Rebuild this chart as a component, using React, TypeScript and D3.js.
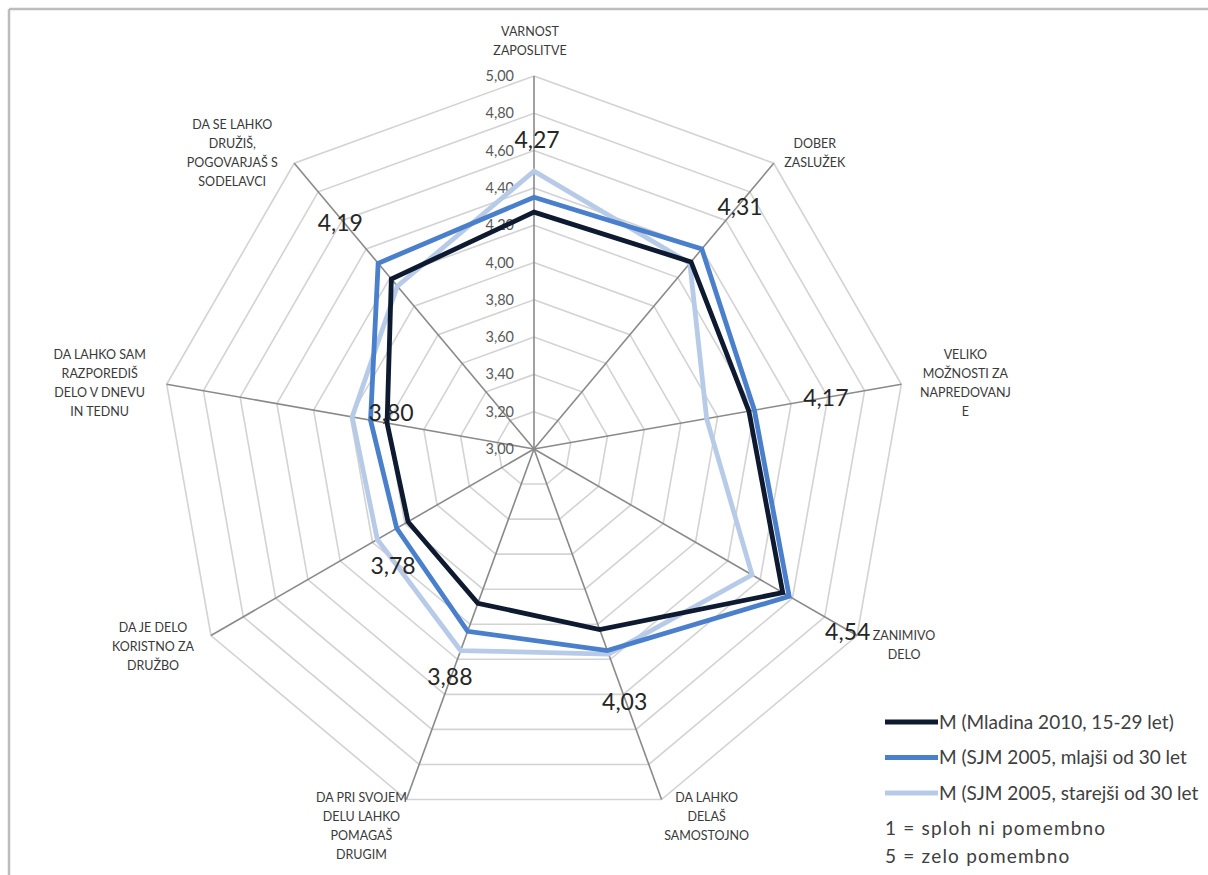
import React from "react";
import * as d3 from "d3";

// kategorije (osi) - vrstice napisov
const categories = [
  ["VARNOST", "ZAPOSLITVE"],
  ["DOBER", "ZASLUŽEK"],
  ["VELIKO", "MOŽNOSTI ZA", "NAPREDOVANJ", "E"],
  ["ZANIMIVO", "DELO"],
  ["DA LAHKO", "DELAŠ", "SAMOSTOJNO"],
  ["DA PRI SVOJEM", "DELU LAHKO", "POMAGAŠ", "DRUGIM"],
  ["DA JE DELO", "KORISTNO ZA", "DRUŽBO"],
  ["DA LAHKO SAM", "RAZPOREDIŠ", "DELO V DNEVU", "IN TEDNU"],
  ["DA SE LAHKO", "DRUŽIŠ,", "POGOVARJAŠ S", "SODELAVCI"],
];

const mladina2010 = [4.27, 4.31, 4.17, 4.54, 4.03, 3.88, 3.78, 3.8, 4.19];
const sjmMlajsi = [4.35, 4.4, 4.2, 4.58, 4.15, 4.04, 3.85, 3.89, 4.3];
const sjmStarejsi = [4.49, 4.3, 3.94, 4.35, 4.17, 4.15, 3.97, 3.99, 4.14];

const seriesNames = [
  "M (Mladina 2010, 15-29 let)",
  "M (SJM 2005, mlajši od 30 let",
  "M (SJM 2005, starejši od 30 let",
];
const notes = ["1 = sploh ni pomembno", "5 = zelo pomembno"];

const ticks = [3.0, 3.2, 3.4, 3.6, 3.8, 4.0, 4.2, 4.4, 4.6, 4.8, 5.0];

// postavitev
const W = 1208;
const H = 875;
const cx = 534;
const cy = 449;
const R = 373;
const colors = ["#0e1a30", "#4a7fcc", "#b7cbe8"];
const font = "Lato, 'Open Sans', sans-serif";

// odmiki napisov kategorij od konca osi: [dx sredine, dy prve vrstice]
const catOffset = [
  [-4, -44], [41, -20], [64, -30], [47, 0], [45, -2],
  [-45, -2], [-58, -8], [-67, -30], [-62, -39],
];
// odmiki podatkovnih oznak od točke temne serije
const valOffset = [
  [3, -72], [49, -55], [77, -13], [65, 39], [25, 72],
  [-28, 74], [-15, 44], [4, -10], [-51, -56],
];

const App = () => {
  const n = categories.length;
  const angle = (i: number) => (i * 2 * Math.PI) / n;
  const r = d3.scaleLinear().domain([3, 5]).range([0, R]);
  const pt = (i: number, v: number) => [
    cx + r(v) * Math.sin(angle(i)),
    cy - r(v) * Math.cos(angle(i)),
  ];
  const fmt = (v: number) => d3.format(".2f")(v).replace(".", ",");

  const radial = d3
    .lineRadial<number>()
    .angle((_, i) => angle(i))
    .radius((d) => r(d))
    .curve(d3.curveLinearClosed);

  const series = [sjmStarejsi, sjmMlajsi, mladina2010];
  const seriesColors = [colors[2], colors[1], colors[0]];

  return (
    <svg
      width={W}
      height={H}
      style={{ position: "absolute", left: 0, top: 0, background: "#fff" }}
      fontFamily={font}
    >
      <rect x={0} y={0} width={W} height={H} fill="#fff" />
      <line x1={9} y1={9} x2={W} y2={9} stroke="#bdbdbd" strokeWidth={2.5} />
      <line x1={9} y1={9} x2={9} y2={H} stroke="#bdbdbd" strokeWidth={2.5} />

      <g transform={`translate(${cx},${cy})`}>
        {ticks.slice(1).map((t) => (
          <path
            key={t}
            d={radial(categories.map(() => t)) || ""}
            fill="none"
            stroke="#d3d3d3"
            strokeWidth={1.6}
          />
        ))}
      </g>

      {categories.map((_, i) => {
        const [x, y] = pt(i, 5);
        return (
          <line key={i} x1={cx} y1={cy} x2={x} y2={y} stroke="#8a8a8a" strokeWidth={1.6} />
        );
      })}

      {ticks.map((t) => (
        <text
          key={t}
          x={cx - 20}
          y={cy - r(t)}
          dy="0.35em"
          textAnchor="end"
          fontSize={14.5}
          fill="#595959"
        >
          {fmt(t)}
        </text>
      ))}

      <g transform={`translate(${cx},${cy})`}>
        {series.map((s, k) => (
          <path
            key={k}
            d={radial(s) || ""}
            fill="none"
            stroke={seriesColors[k]}
            strokeWidth={4.8}
            strokeLinejoin="miter"
          />
        ))}
      </g>

      {mladina2010.map((v, i) => {
        const [x, y] = pt(i, v);
        return (
          <text
            key={i}
            x={x + valOffset[i][0]}
            y={y + valOffset[i][1]}
            dy="0.35em"
            textAnchor="middle"
            fontSize={23}
            fill="#262626"
          >
            {fmt(v)}
          </text>
        );
      })}

      {categories.map((lines, i) => {
        const [x, y] = pt(i, 5);
        const lx = x + catOffset[i][0];
        const ly = y + catOffset[i][1];
        return (
          <text key={i} textAnchor="middle" fontSize={12.5} fill="#3a3a3a">
            {lines.map((l, j) => (
              <tspan key={j} x={lx} y={ly + j * 19} dy="0.35em">
                {l}
              </tspan>
            ))}
          </text>
        );
      })}

      <g transform="translate(885,722)">
        {seriesNames.map((name, k) => (
          <g key={k} transform={`translate(0,${k * 35.5})`}>
            <line x1={0} x2={53} y1={0} y2={0} stroke={colors[k]} strokeWidth={5} />
            <text x={54} y={0} dy="0.35em" fontSize={19} fill="#404040">
              {name}
            </text>
          </g>
        ))}
        {notes.map((t, k) => (
          <text key={t} x={0} y={106 + k * 28} dy="0.35em" fontSize={19} fill="#404040" letterSpacing={1.2}>
            {t}
          </text>
        ))}
      </g>
    </svg>
  );
};

export default App;
